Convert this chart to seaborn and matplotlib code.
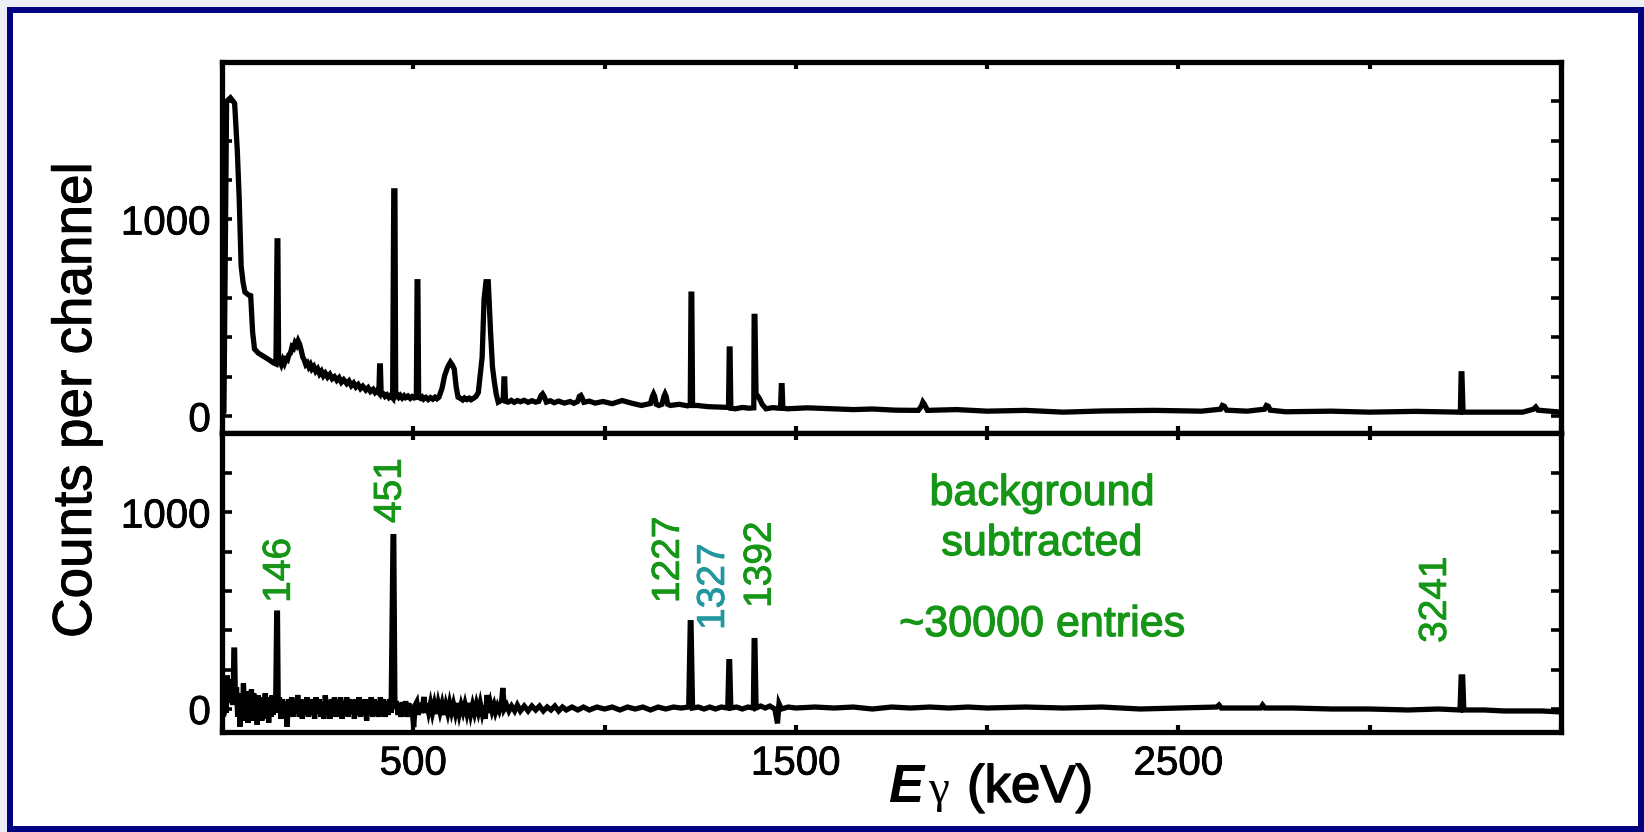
import matplotlib
matplotlib.use("Agg")
import matplotlib.pyplot as plt
import matplotlib.patheffects as pe
import seaborn as sns
from matplotlib.patches import Rectangle
from matplotlib.ticker import FixedLocator

# ---------------- data ----------------
# upper panel: raw spectrum (energy in keV, counts per channel)
top_energy = [
    5, 12, 22, 33, 40, 45, 50, 55, 60, 70, 75, 80, 85, 95, 105, 120, 135, 141,
    144, 146, 148,
    151, 155, 159, 163, 167, 171, 175, 179, 183, 187, 191, 195, 199, 203, 207, 211, 215, 219,
    223, 227, 231, 235, 240, 245, 250, 255, 260, 265, 270, 276, 282, 288, 294, 300, 306, 312,
    318, 326, 332, 338, 344, 350, 356, 362, 368, 376, 382, 388, 395, 400, 405, 410,
    412, 414, 416, 418,
    422, 426, 431, 436, 440, 446,
    449, 452, 454,
    458, 462, 466, 471, 476, 480, 486, 492, 497, 502, 508,
    510, 512, 514,
    519, 523, 527, 533, 539, 545, 551, 557, 562, 567, 575, 582, 590, 597, 602, 607, 612, 617,
    623, 629, 634, 640, 646, 651, 657, 664, 670, 680, 685, 690, 696,
    702, 707, 712, 717, 722, 730, 735,
    737, 739, 741,
    748, 756, 764, 772, 780, 790, 800, 810, 820, 828, 834, 838, 842, 848, 858, 868, 880, 895,
    910, 920, 930, 934, 938, 942, 946, 960, 975, 996, 1020, 1046, 1070, 1096, 1120,
    1125, 1128, 1131, 1135, 1142, 1150, 1155, 1158, 1161, 1165, 1172, 1195, 1217, 1224,
    1226, 1228, 1230,
    1242, 1270, 1297, 1324,
    1326, 1328, 1330,
    1342, 1360, 1377, 1390,
    1391, 1393, 1396,
    1401, 1405, 1412, 1422, 1440, 1455, 1460,
    1462, 1464, 1466,
    1478, 1530, 1598, 1650, 1700, 1760, 1820, 1828, 1832, 1836, 1844, 1920, 2000, 2100, 2199,
    2300, 2438, 2560, 2610, 2615, 2620, 2626, 2680, 2725, 2730, 2735, 2740, 2780, 2900, 3000,
    3120, 3237,
    3239, 3241, 3244,
    3300, 3400, 3428, 3434, 3440, 3500,
]
top_counts = [
    20, 1600, 1618, 1590, 1350, 1103, 764, 680, 630, 615, 612, 427, 341, 320, 308, 290, 270, 265,
    891, 891, 280,
    280, 262, 285, 268, 290, 285, 312, 320, 352, 345, 372, 360, 382, 365, 335, 300, 285, 262,
    270, 250, 262, 240, 252, 228, 240, 215, 228, 205, 218, 198, 212, 190, 200, 182, 195, 172,
    185, 165, 178, 155, 168, 148, 160, 140, 152, 132, 144, 125, 136, 120, 130, 118,
    255, 255, 115, 110,
    112, 100, 108, 95, 104, 92,
    1145, 1145, 100,
    108, 96, 105, 92, 103, 94, 102, 90, 99, 92, 95,
    683, 683, 95,
    90, 97, 86, 95, 84, 94, 86, 96, 88, 96, 140, 206, 250, 274, 260, 240, 150, 96,
    90, 82, 92, 84, 91, 83, 90, 100, 120, 300, 594, 683, 683,
    427, 250, 172, 110, 71, 80, 85,
    189, 189, 75,
    71, 80, 70, 79, 73, 80, 70, 78, 71, 75, 105, 113, 100, 71, 78, 68, 76, 66,
    74, 65, 75, 100, 105, 90, 70, 76, 66, 74, 63, 79, 66, 54, 64,
    100, 113, 100, 60, 54, 60, 100, 113, 100, 60, 54, 60, 52, 56,
    620, 620, 54,
    54, 48, 46, 44,
    341, 341, 40,
    37, 44, 40, 42,
    507, 507, 100,
    100, 88, 60, 37, 43, 40, 42,
    155, 155, 40,
    37, 42, 37, 33, 36, 30, 29, 50, 71, 60, 29, 33, 25, 29, 20,
    26, 29, 25, 35, 54, 50, 30, 25, 35, 54, 50, 30, 22, 25, 20,
    24, 20,
    215, 215, 20,
    20, 20, 35, 46, 30, 20,
]

# lower panel: background-subtracted spectrum
bot_energy = [
    5, 8, 11, 14, 17, 20, 23, 26, 29, 31, 33, 35, 38, 41, 44, 47, 50, 53, 56, 59, 62, 65, 68,
    71, 74, 77, 80, 83, 86, 89, 92, 95, 98, 101, 104, 107, 110, 113, 116, 119, 122, 125, 128,
    131, 134, 137, 140,
    143, 145, 147,
    150, 154, 158, 162, 166, 170, 174, 178, 182, 186, 190, 194, 198, 202, 206, 210, 214, 218,
    222, 226, 230, 234, 238, 242, 246, 250, 254, 258, 262, 266, 270, 274, 278, 282, 286, 290,
    294, 298, 302, 306, 310, 314, 318, 322, 326, 330, 334, 338, 342, 346, 350, 354, 358, 362,
    366, 370, 374, 378, 382, 386, 390, 394, 398, 402, 406, 410, 414, 418, 422, 426, 430, 434,
    438, 442,
    447, 449, 452,
    456, 460, 464, 468, 472, 476, 480, 484, 488, 492, 496, 501, 505, 509, 513, 517, 521, 525,
    528, 532, 536, 540,
    545, 550, 555, 560, 565, 570, 575, 580, 585, 590, 595, 600, 605, 610, 615, 620, 625, 630,
    635, 640, 645, 650, 655, 660, 665, 670, 675, 680, 684, 688, 693, 698, 702, 706, 711, 715,
    720, 725, 730, 734,
    738, 744, 750, 757, 765, 772, 780, 790, 800, 810, 820, 830, 840, 850, 860, 870, 880, 890,
    900, 915, 930, 945, 960, 980, 1000, 1020, 1040, 1060, 1080, 1100, 1120, 1140, 1160, 1180,
    1200, 1220,
    1224, 1226, 1230,
    1245, 1260, 1275, 1290, 1305, 1322,
    1325, 1327, 1330,
    1345, 1360, 1375, 1389,
    1391, 1393, 1396,
    1408, 1420, 1432, 1445, 1452, 1456, 1462, 1480, 1500, 1550, 1600, 1650, 1700, 1750, 1800,
    1850, 1900, 1950, 2000, 2100, 2200, 2300, 2400, 2500, 2600, 2606,
    2612, 2715, 2720, 2726, 2800, 2900, 3000, 3100, 3180, 3236,
    3239, 3243, 3246,
    3300, 3350, 3400, 3450, 3500,
]
bot_counts = [
    -30, 40, -20, 170, 60, 150, 30, 120, 20, 300, 300, 40, 110, -40, 60, -90, 80, -60, 130, 10, -40, 90, -70,
    70, -30, 100, -60, 80, -40, 60, -80, 70, -20, 60, -60, 50, -50, 80, -30, 60, -70, 40, -40,
    70, -30, 50, -20,
    488, 488, 10,
    60, -50, 50, -40, 40, -90, 50, -30, 60, -40, 50, -20, 71, -40, 50, -50, 40, -30,
    60, -40, 50, -30, 40, -50, 60, -20, 50, -40, 30, -50, 70, -30, 40, -50, 50, -30,
    60, -40, 50, -20, 60, -50, 40, -30, 60, -40, 50, -20, 40, -50, 50, -30, 60, -40,
    40, -30, 50, -60, 40, -30, 60, -40, 50, -30, 40, -40, 60, -30, 50, -40, 40, -30,
    50, -20,
    877, 877, 0,
    40, -30, 30, -40, 35, -20, 40, -40, 30, -30, 20, -92, 20, 35, -30, 30, -20, 25,
    61, -20, 25, -15,
    30, -20, 25, -25, 30, -15, 25, -30, 20, -20, 30, -15, 25, -20, 30, -25, 20, -15,
    25, -20, 30, -25, 20, -20, 25, -15, 30, -20, 15, -50, 71, -20, 25, -10, 20, -15,
    15, -10, 20, 107,
    0, 20, -10, 15, -10, 20, -10, 15, -10, 15, -5, 15, -10, 10, -5, 15, -10, 10,
    -5, 10, -5, 10, -5, 10, 0, 10, -5, 10, 0, 10, -5, 10, 0, 10,
    5, 10,
    439, 439, 5,
    10, 0, 10, 0, 10, 5,
    241, 241, 5,
    10, 0, 10, 5,
    348, 348, 5,
    15, 5, 15, 0, -73, 27, 0, 10, 5, 10, 5, 10, 0, 10, 5,
    10, 5, 10, 5, 10, 5, 10, 0, 5, 10, 20,
    5, 5, 20, 5, 5, 0, 0, -5, 0, -5,
    163, 163, -5,
    -5, -10, -10, -10, -15,
]

# peak labels in the lower panel
peak_labels = ["146", "451", "1227", "1327", "1392", "3241"]
peak_label_x = [151, 441, 1168, 1286, 1408, 3173]
peak_label_y = [540, 946, 539, 402, 514, 336]
peak_label_colors = ["#169616", "#169616", "#169616", "#23979f", "#169616", "#169616"]

# axes ticks
xtick_pos = [0, 500, 1000, 1500, 2000, 2500, 3000, 3500]
xtick_labels = ["", "500", "", "1500", "", "2500", "", ""]
ytick_major = [0, 1000]
ytick_major_labels = ["0", "1000"]
ytick_minor = [200, 400, 600, 800, 1200, 1400, 1600]

# ---------------- figure ----------------
sns.set_theme(style="white")
plt.rcParams["font.family"] = ["Liberation Sans", "DejaVu Sans"]

W, H = 1644, 832
fig = plt.figure(figsize=(W / 100, H / 100), dpi=100)
fig.patch.set_facecolor("#EEEEF9")
frame = Rectangle((10 / W, 3 / H), 1631 / W, 819 / H, transform=fig.transFigure,
                  facecolor="white", edgecolor="#000080", lw=4.3, zorder=-10)
fig.patches.append(frame)

ax_top = fig.add_axes([222 / W, 1 - 433 / H, 1339 / W, 371 / H])
ax_bot = fig.add_axes([222 / W, 1 - 732 / H, 1339 / W, 299 / H])

GREEN = "#169616"
LW = 3.8


def heavy(color, w=0.6):
    return [pe.withStroke(linewidth=w, foreground=color)]


sns.lineplot(x=top_energy, y=top_counts, ax=ax_top, color="black", lw=LW,
             sort=False, estimator=None, solid_joinstyle="miter")
sns.lineplot(x=bot_energy, y=bot_counts, ax=ax_bot, color="black", lw=LW,
             sort=False, estimator=None, solid_joinstyle="miter")

ax_top.set_ylim(-86, 1800)
ax_bot.set_ylim(-117, 1404)

for ax in (ax_top, ax_bot):
    ax.set_facecolor("white")
    ax.set_xlim(0, 3500)
    ax.set_xlabel("")
    ax.set_ylabel("")
    for sp in ax.spines.values():
        sp.set_visible(True)
        sp.set_color("black")
        sp.set_linewidth(3.8)
    ax.set_xticks(xtick_pos, labels=xtick_labels)
    ax.set_yticks(ytick_major, labels=ytick_major_labels)
    ax.yaxis.set_minor_locator(FixedLocator(ytick_minor))
    ax.tick_params(axis="x", which="both", direction="in", length=5, width=3,
                   top=True, bottom=True, color="black", labelcolor="black",
                   labelsize=29, pad=9)
    ax.tick_params(axis="y", which="both", direction="in", length=7, width=2.6,
                   left=True, right=True, color="black", labelcolor="black",
                   labelsize=29, pad=8)
    ax.grid(False)
    for lbl in ax.get_xticklabels() + ax.get_yticklabels():
        lbl.set_path_effects(heavy("black", 0.6))

ax_top.tick_params(axis="x", labelbottom=False)

for lab, x, y, c in zip(peak_labels, peak_label_x, peak_label_y, peak_label_colors):
    ax_bot.text(x, y, lab, rotation=90, ha="center", va="bottom", color=c, fontsize=28,
                path_effects=heavy(c, 0.6))

for txt, y in (("background", 1038), ("subtracted", 783), ("~30000 entries", 371)):
    ax_bot.text(2143, y, txt, ha="center", va="baseline", color=GREEN, fontsize=31,
                path_effects=heavy(GREEN, 0.9))

# axis titles
fig.text(77 / W, 1 - 400 / H, "Counts per channel", rotation=90, ha="center", va="center",
         fontsize=39.5, color="black", path_effects=heavy("black", 0.7))
fig.text(888 / W, 1 - 802 / H, "E", fontsize=38, fontweight="bold", fontstyle="italic",
         ha="left", va="baseline", color="black")
fig.text(928 / W, 1 - 802 / H, "γ", fontsize=34, family=["Liberation Serif", "DejaVu Serif"],
         ha="left", va="baseline", color="black")
fig.text(967 / W, 1 - 802 / H, "(keV)", fontsize=38, ha="left", va="baseline", color="black",
         path_effects=heavy("black", 1.1))

fig.savefig("out.png", dpi=100, facecolor=fig.get_facecolor())
